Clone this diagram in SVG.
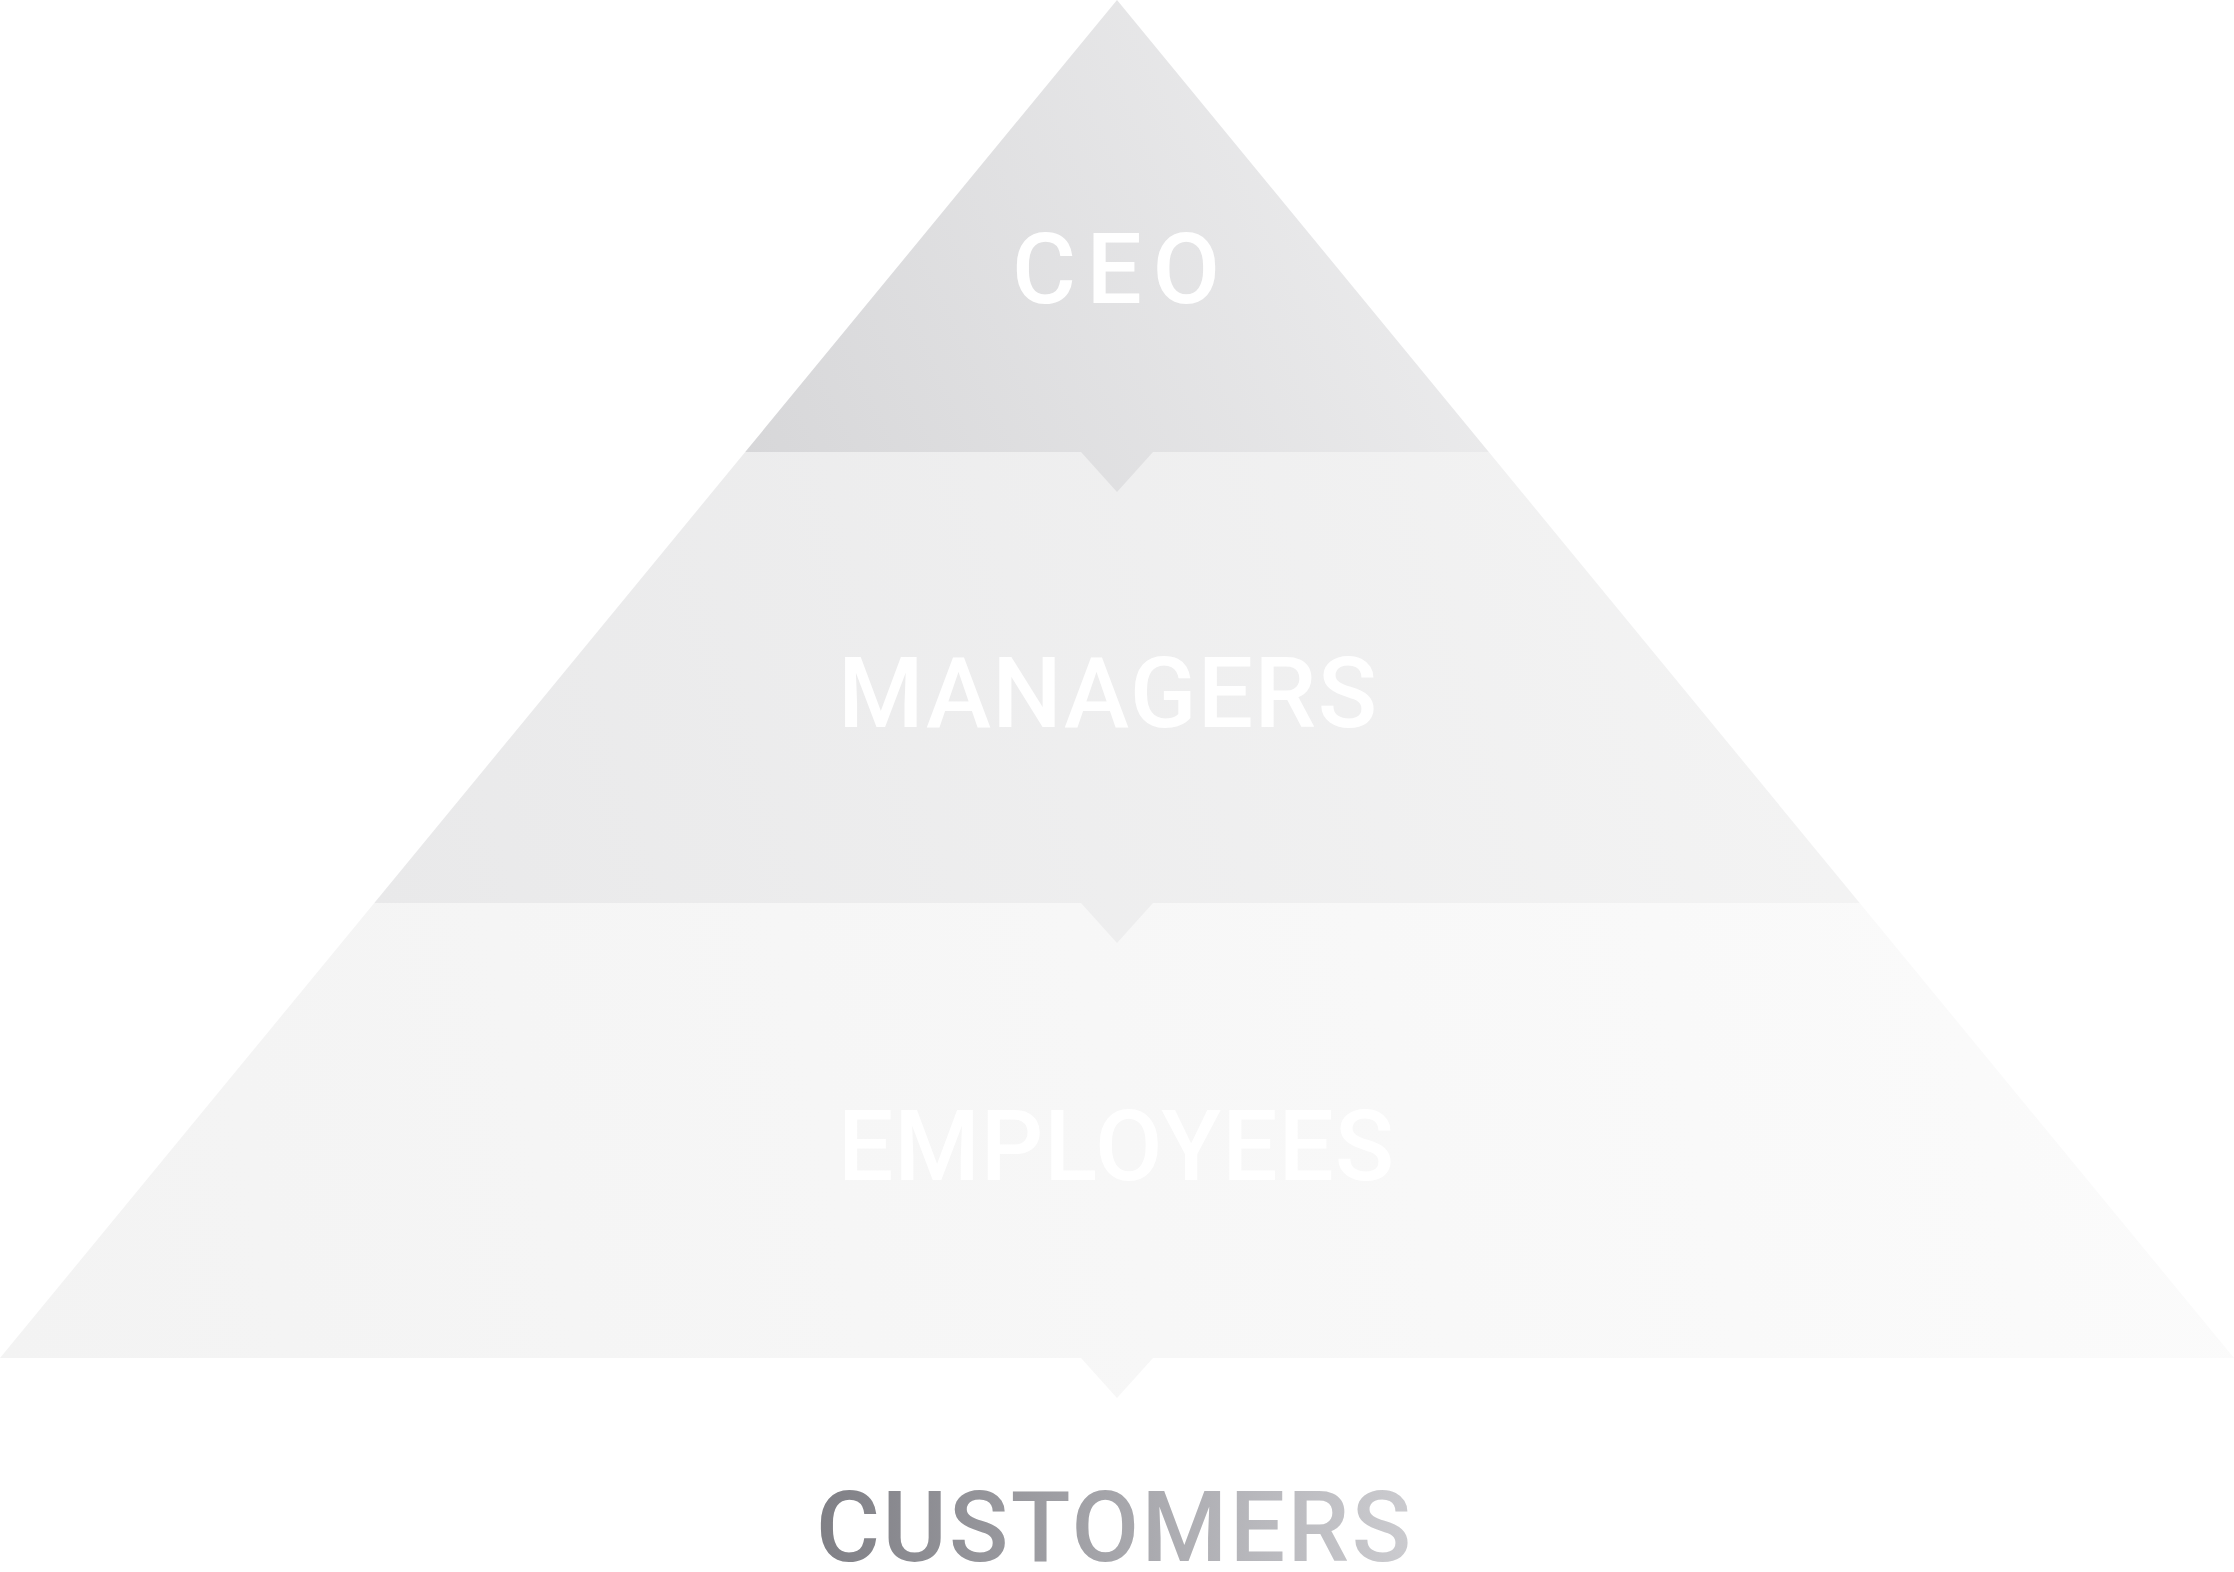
<svg xmlns="http://www.w3.org/2000/svg" width="2234" height="1572" viewBox="0 0 2234 1572">
  <defs>
    <linearGradient id="gCeo" gradientUnits="userSpaceOnUse" x1="744" y1="452" x2="1490" y2="100">
      <stop offset="0" stop-color="#d7d7d9"/>
      <stop offset="1" stop-color="#eeeeef"/>
    </linearGradient>
    <linearGradient id="gMgr" gradientUnits="userSpaceOnUse" x1="374" y1="903" x2="1860" y2="452">
      <stop offset="0" stop-color="#e9e9ea"/>
      <stop offset="1" stop-color="#f4f4f4"/>
    </linearGradient>
    <linearGradient id="gEmp" gradientUnits="userSpaceOnUse" x1="0" y1="1358" x2="2234" y2="903">
      <stop offset="0" stop-color="#f3f3f3"/>
      <stop offset="1" stop-color="#fbfbfb"/>
    </linearGradient>
    <linearGradient id="gCust" gradientUnits="userSpaceOnUse" x1="821" y1="0" x2="1408" y2="0">
      <stop offset="0" stop-color="#808086"/>
      <stop offset="1" stop-color="#cbcbcf"/>
    </linearGradient>
  </defs>
  <style>
    .lbl { font-family: Roboto, "Liberation Sans", Arial, sans-serif; font-weight: 500; font-size: 98px; fill: #ffffff; }
    .cust { fill: url(#gCust); }
  </style>
  <rect width="2234" height="1572" fill="#ffffff"/>
  <g id="connectors"></g>
  <g id="employees">
    <polygon points="374.3,903 1859.7,903 2234,1358 1153,1358 1117,1398 1081,1358 0,1358" fill="url(#gEmp)"/>
    <text class="lbl" x="838" y="1180" textLength="556">EMPLOYEES</text>
  </g>
  <g id="managers">
    <polygon points="745.2,452 1488.8,452 1859.7,903 1153,903 1117,943 1081,903 374.3,903" fill="url(#gMgr)"/>
    <text class="lbl" x="838" y="727" textLength="539">MANAGERS</text>
  </g>
  <g id="ceo">
    <polygon points="1117,0 1488.8,452 1153,452 1117,492 1081,452 745.2,452" fill="url(#gCeo)"/>
    <text class="lbl" x="1012" y="303" textLength="208">CEO</text>
  </g>
  <g id="customers">
    <text class="lbl cust" x="816" y="1561" textLength="595">CUSTOMERS</text>
  </g>
</svg>
